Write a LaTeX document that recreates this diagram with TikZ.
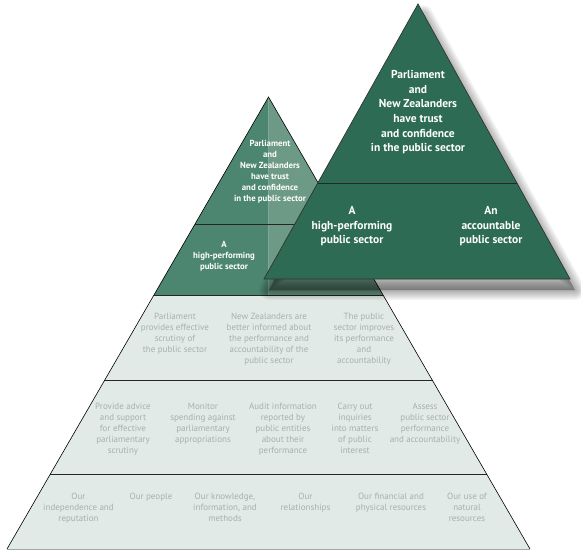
\documentclass[tikz,border=0pt]{standalone}
\usepackage{fontspec}
\setmainfont{PT Sans}
\usetikzlibrary{calc}
\definecolor{deepgreen}{HTML}{2D6B54}
\definecolor{midgreen}{HTML}{4D8670}
\definecolor{palegreen}{HTML}{6C9A86}
\definecolor{mist}{HTML}{E1EAE6}
\definecolor{fog}{HTML}{A7B0AC}

\begin{document}
\begin{tikzpicture}[x=1pt,y=-1pt,
 lowtxt/.style={anchor=north,align=center,inner sep=0pt,text=fog,font=\fontsize{9}{11}\selectfont},
 midtxt/.style={anchor=north,align=center,inner sep=0pt,text=white,font=\bfseries\fontsize{8.8}{11}\selectfont},
 toptxt/.style={anchor=north,align=center,inner sep=0pt,text=white,font=\bfseries\fontsize{11.5}{14.7}\selectfont}]
\useasboundingbox (0,0) rectangle (581,555);
% back pyramid
\coordinate (apex) at (268.5,97);
\coordinate (bl) at (7,549);
\coordinate (br) at (530,549);
\foreach \t/\n in {.281/a,.438/b,.628/c,.836/d} {
 \coordinate (l\n) at ($(apex)!\t!(bl)$);
 \coordinate (r\n) at ($(apex)!\t!(br)$);}
\coordinate (mb) at ($(lb)!.5!(rb)$);
\fill[mist] (lb) -- (rb) -- (br) -- (bl) -- cycle;
\fill[midgreen] (apex) -- (lb) -- (mb) -- cycle;
\fill[palegreen] (apex) -- (mb) -- (rb) -- cycle;
\foreach \n in {a,b,c,d} \draw[line width=.9pt,black!85] (l\n) -- (r\n);
\draw[line width=.6pt] (bl) -- (apex) -- (br);
\draw[line width=.6pt,black!35] (bl) -- (br);
\node[midtxt] (trust1) at (270,140.5) {Parliament\\and\\New Zealanders\\have trust\\and confidence\\in the public sector};
\node[midtxt] (perform1) at (224,241.5) {A\\high-performing\\public sector};
% outcomes
\foreach \nm/\xx/\txt in {scrutiny/175/{Parliament\\provides effective\\scrutiny  of\\the public sector},
 informed/269/{New Zealanders are\\better informed about\\the performance and\\accountability of the\\public sector},
 improves/364/{The public\\sector improves\\its performance\\and\\accountability}}
 \node[lowtxt] (\nm) at (\xx,312.5) {\txt};
% outputs
\foreach \nm/\xx/\txt in {advice/123/{Provide advice\\and support\\for effective\\parliamentary\\scrutiny},
 monitor/203/{Monitor\\spending against\\parliamentary\\appropriations},
 audit/283/{Audit information\\reported by\\public entities\\about their\\performance},
 inquiry/355/{Carry out\\inquiries\\into matters\\of public\\interest},
 assess/425/{Assess\\public sector\\performance\\and  accountability}}
 \node[lowtxt] (\nm) at (\xx,402.5) {\txt};
% resources
\foreach \nm/\xx/\txt in {indep/78.5/{Our\\independence and\\reputation},
 people/151/{Our people},
 knowledge/225/{Our knowledge,\\information, and\\methods},
 relation/305.5/{Our\\relationships},
 finance/391/{Our financial and\\physical resources},
 natural/467/{Our use of\\natural\\resources}}
 \node[lowtxt] (\nm) at (\xx,492.5) {\txt};
% front triangle
\coordinate (top) at (418,4);
\coordinate (tl) at (264,279);
\coordinate (tr) at (570,279);
\foreach \w in {20,18,...,2}
 \filldraw[black,opacity=.035,line width=\w pt,line join=round]
  ($(top)+(5,11)$) -- ($(tl)+(5,11)$) -- ($(tr)+(5,11)$) -- cycle;
\filldraw[fill=deepgreen,draw=black!80,line width=.7pt] (top) -- (tl) -- (tr) -- cycle;
\draw[line width=.8pt,black!85] ($(top)!.651!(tl)$) -- ($(top)!.651!(tr)$);
\node[toptxt] (trust2) at (418,70) {Parliament\\and\\New Zealanders\\have trust\\and confidence\\in the public sector};
\node[toptxt] (perform2) at (352,206) {A\\high-performing\\public sector};
\node[toptxt] (account2) at (491,206) {An\\accountable\\public sector};
\end{tikzpicture}
\end{document}
